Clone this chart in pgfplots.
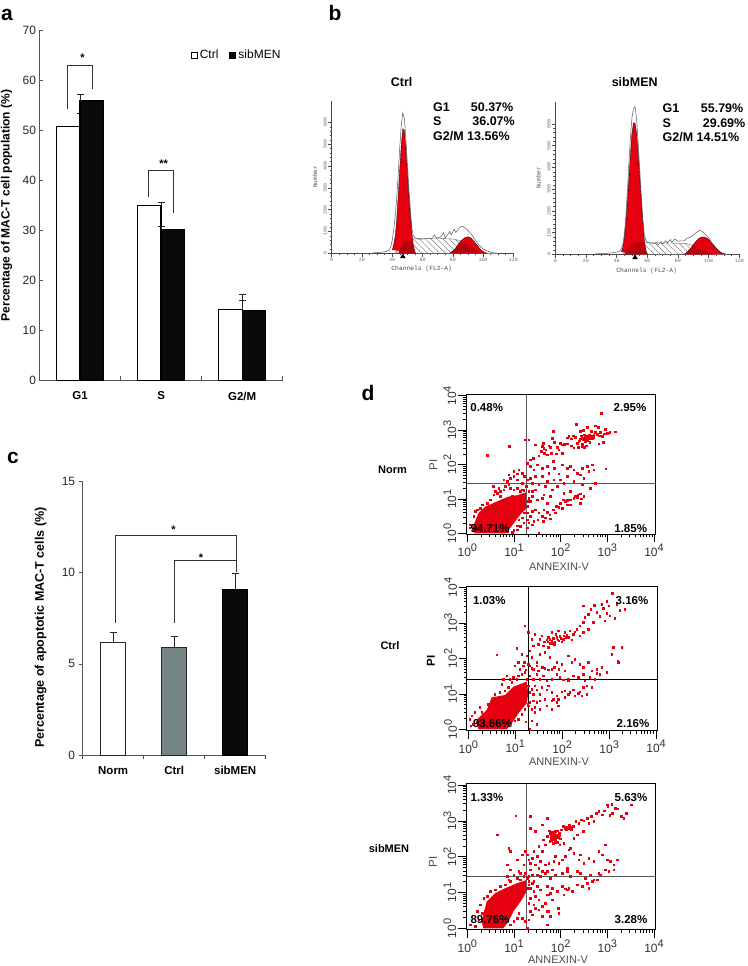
\documentclass[border=0pt]{standalone}
\usepackage{fontspec}
\usepackage{pgfplots}
\pgfplotsset{compat=1.18}
\usetikzlibrary{patterns.meta}
\setmainfont{Liberation Sans}
\setmonofont{Liberation Mono}
\definecolor{flowred}{HTML}{E6000F}
\definecolor{darkred}{HTML}{B8000C}
\definecolor{axgray}{HTML}{555555}
\definecolor{barblack}{HTML}{0A0A0A}
\definecolor{bargray}{HTML}{748484}
\newcommand{\fs}[1]{\fontsize{#1}{#1}\selectfont}
\newcommand{\dec}[1]{10\raisebox{5pt}{\fs{11}#1}}
\newcommand{\minorlist}{42,67,84,98,109,118,126,134,182,207,224,238,249,258,266,274,322,347,364,378,389,398,406,414,462,487,504,518,529,538,546,554}
\tikzset{lab/.style={font=\bfseries\fs{12.5}, inner sep=0pt, anchor=west},
  labr/.style={font=\bfseries\fs{12.5}, inner sep=0pt, anchor=east}}
\pgfplotsset{
  barpanel/.style={
    scale only axis, axis lines=left, axis line style={-,axgray,line width=.8pt},
    tick style={axgray,line width=.7pt}, major tick length=4pt,
    /pgf/number format/assume math mode=true,
    ticklabel style={font=\fs{12}, text=black!85}, 
    xticklabel style={font=\bfseries\fs{11.5}, text=black},
    ylabel style={anchor=center},
    x tick label as interval, xmin=-0.5, xmax=2.5, xtick={-0.5,0.5,1.5,2.5}, ymin=0,
    clip=false},
  errbar/.style={error bars/.cd, y dir=plus, y explicit,
    error bar style={black!85,line width=1pt},
    error mark options={rotate=90, line width=1pt, mark size=3.5pt}},
  hist/.style={
    scale only axis, axis lines=left, axis line style={-,black!70,line width=.6pt},
    xmin=0, xmax=120, ymin=0, clip=false,
    xtick={0,20,...,120}, ytick={0,100,...,600},
    minor x tick num=3, minor y tick num=4,
    tick style={black!70,line width=.5pt}, major tick length=3.5pt, minor tick length=2pt,
    tick align=outside,
    /pgf/number format/assume math mode=true,
    ticklabel style={font=\ttfamily\fs{5}, text=black!60, inner sep=1pt},
    yticklabel style={rotate=90, anchor=south}},
  flow/.style={
    scale only axis, axis on top,
    axis line style={black,line width=1pt},
    xtick pos=bottom, ytick pos=left, tick align=outside,
    tick style={black,line width=.7pt}, major tick length=8pt, minor tick length=3pt,
    xticklabels={\dec{0},\dec{1},\dec{2},\dec{3},\dec{4}},
    yticklabels={\dec{0},\dec{1},\dec{2},\dec{3},\dec{4}},
    ticklabel style={font=\fs{12}, text=black!80, inner sep=1.5pt},
    yticklabel style={rotate=90, anchor=south},
    minor xtick=\minorlist},
  spot/.style={only marks, flowred, mark=square*, mark size=.7pt, mark options={line width=0pt, draw=flowred, fill=flowred}},
  blob/.style={draw=none, fill=flowred, forget plot},
  quad/.style={line width=.8pt, forget plot}
}
\begin{document}
\begin{tikzpicture}[x=1pt,y=1pt]
\useasboundingbox (0,0) rectangle (747,966);

% a
\begin{axis}[barpanel, at={(39.5pt,585.7pt)}, width=243.2pt, height=349.6pt,
  ymax=70, ytick={0,10,...,70}, tick align=inside,
  xticklabels={G1,S,G2/M}, xticklabel style={yshift=-8pt},
  ylabel={Percentage of MAC-T cell population (\%)},
  ylabel style={at={(axis description cs:-0.135,0.5)}, font=\bfseries\fs{12}},
  legend style={at={(1,0.93)}, anchor=east, draw=none, fill=none, legend columns=2,
    font=\fs{12}, /tikz/every even column/.append style={column sep=9pt}, inner sep=0pt},
  legend image code/.code={\draw[#1,line width=1pt] (0pt,-3pt) rectangle (6pt,3pt);}]
\addplot[ybar, bar width=23.3pt, bar shift=-11.65pt, fill=white, draw=black, line width=1.2pt, errbar]
  coordinates {(0,50.8) +- (0,2.6) (1,35.0) +- (0,0.6) (2,14.1) +- (0,3.0)};
\addlegendentry{Ctrl}
\addplot[ybar, bar width=23.3pt, bar shift=11.65pt, fill=barblack, draw=black, line width=1.2pt, errbar]
  coordinates {(0,56.0) +- (0,1.2) (1,30.2) +- (0,0.6) (2,14.0) +- (0,2.0)};
\addlegendentry{sibMEN}
\addplot[forget plot, black!80, line width=.8pt] coordinates {(-0.15,54.4) (-0.15,63.1) (0.158,63.1) (0.158,58.4)};
\addplot[forget plot, black!80, line width=.8pt] coordinates {(0.842,36.8) (0.842,42.1) (1.154,42.1) (1.154,33.4)};
\node[font=\bfseries\fs{11}] at (axis cs:0.03,64.6) {*};
\node[font=\bfseries\fs{11}] at (axis cs:1.03,43.4) {**};
\end{axis}

% c
\begin{axis}[barpanel, at={(82.7pt,211pt)}, width=183pt, height=273.3pt,
  ymax=15, ytick={0,5,10,15}, tick align=outside,
  xticklabels={Norm,Ctrl,sibMEN}, xticklabel style={yshift=-4pt},
  ylabel={Percentage of apoptotic MAC-T cells (\%)},
  ylabel style={at={(axis description cs:-0.23,0.466)}, font=\bfseries\fs{12.5}}]
\addplot[ybar, bar width=25pt, bar shift=0pt, fill=white, draw=black!85, line width=.9pt, errbar]
  coordinates {(0,6.18) +- (0,0.55)};
\addplot[ybar, bar width=25pt, bar shift=0pt, fill=bargray, draw=black!85, line width=.9pt, errbar]
  coordinates {(1,5.89) +- (0,0.62)};
\addplot[ybar, bar width=25pt, bar shift=0pt, fill=barblack, draw=black, line width=.9pt, errbar]
  coordinates {(2,9.11) +- (0,0.86)};
\addplot[black!80, line width=.8pt] coordinates {(0.03,7.26) (0.03,12.05) (2.025,12.05) (2.025,10.06)};
\addplot[black!80, line width=.8pt] coordinates {(1.008,7.26) (1.008,10.66) (2.025,10.66)};
\node[font=\bfseries\fs{11}] at (axis cs:0.99,12.35) {*};
\node[font=\bfseries\fs{11}] at (axis cs:1.44,10.85) {*};
\end{axis}

% b Ctrl
\begin{axis}[hist, at={(331.7pt,712.7pt)}, width=181.6pt, height=152.6pt, ymax=700]
\addplot[draw=black!65, fill=white, line width=.5pt] coordinates {
 (27,2)(30,3)(33,5)(36,8)(38,15)(39,30)(40,60)(41,110)(42,175)(43,260)(44,370)(45,490)(46,590)(47,645)(48,620)(49,530)(50,410)(51,300)(52,200)(53,110)(54,80)(55,72)(57,65)(60,65)(63,68)(66,68)(68,85)(69,70)(72,75)(74,95)(75,70)(76,80)(78,100)(79,85)(81,110)(82,95)(84,115)(86,125)(88,118)(90,105)(92,90)(95,60)(97,40)(100,20)(103,10)(106,3)(110,0)};
\addplot[draw=black!60, line width=.4pt, pattern={Lines[angle=-45,distance=4.2pt,line width=.4pt]}, pattern color=black!55] coordinates {
 (42,0)(46,40)(50,58)(54,66)(60,68)(70,68)(80,66)(85,58)(90,42)(95,20)(100,0)};
\addplot[draw=black, fill=flowred, line width=.3pt] coordinates {
 (40,15)(41,40)(42,80)(43,160)(44,270)(45,390)(46,500)(47,572)(48,565)(49,480)(50,370)(51,260)(52,170)(53,90)(54,35)(55,5)(55.5,0)};
\addplot[draw=none, fill=darkred] coordinates {(44,0)(45,15)(46,32)(48,48)(50,55)(51,58)(52,60)(53,55)(54,30)(55,5)(55.5,0)};
\addplot[draw=black, fill=flowred, line width=.3pt] coordinates {
 (78,0)(80,10)(82,25)(84,45)(86,60)(88,72)(90,76)(92,70)(94,55)(96,38)(98,20)(100,8)(102,2)(103,0)};
\addplot[draw=none, fill=darkred] coordinates {(80,0)(80,10)(82,25)(84,40)(86,50)(90,42)(95,20)(98,0)};
\addplot[only marks, mark=triangle*, mark size=2.8pt, black] coordinates {(47,-15)};
\end{axis}
\node[font=\bfseries\fs{12.5}] at (401.7,884.3) {Ctrl};
\node[font=\ttfamily\fs{6.3}, text=black!70] at (421.7,696.7) {Channels (FL2-A)};
\node[font=\ttfamily\fs{6}, text=black!70, rotate=90] at (315,789) {Number};
\node[lab] at (433,859) {G1};
\node[labr] at (513.5,859) {50.37\%};
\node[lab] at (433,844.5) {S};
\node[labr] at (515,844.5) {36.07\%};
\node[lab] at (433,829.5) {G2/M 13.56\%};

% b sibMEN
\begin{axis}[hist, at={(555.3pt,711.7pt)}, width=184pt, height=152pt, ymax=700]
\addplot[draw=black!65, fill=white, line width=.5pt] coordinates {
 (26,2)(35,5)(40,10)(42,15)(43,25)(44,45)(45,90)(46,175)(47,290)(48,420)(49,540)(50,630)(51,670)(52,680)(53,625)(54,520)(55,400)(56,280)(57,170)(58,95)(59,65)(60,55)(62,52)(64,50)(66,55)(67,45)(69,58)(70,48)(72,62)(73,52)(75,68)(76,55)(78,70)(80,60)(82,62)(84,62)(86,75)(88,78)(90,88)(92,100)(94,110)(96,105)(98,92)(100,75)(102,55)(104,35)(106,20)(108,8)(110,3)(112,0)};
\addplot[draw=black!60, line width=.4pt, pattern={Lines[angle=-45,distance=4.2pt,line width=.4pt]}, pattern color=black!55] coordinates {
 (44,0)(47,25)(50,45)(53,55)(57,55)(65,52)(75,52)(85,50)(90,40)(95,25)(100,10)(103,0)};
\addplot[draw=black, fill=flowred, line width=.3pt] coordinates {
 (43,10)(44,30)(45,70)(46,140)(47,240)(48,350)(49,460)(50,560)(51,605)(52,605)(53,560)(54,470)(55,360)(56,250)(57,150)(58,70)(59,20)(60,0)};
\addplot[draw=none, fill=darkred] coordinates {(45,0)(47,25)(50,45)(53,55)(57,55)(58,55)(59,20)(60,0)};
\addplot[draw=black, fill=flowred, line width=.3pt] coordinates {
 (84,0)(86,10)(88,25)(90,45)(92,62)(94,75)(96,80)(98,78)(100,68)(102,50)(104,35)(106,20)(108,8)(110,2)(111,0)};
\addplot[draw=none, fill=darkred] coordinates {(86,0)(86,10)(88,25)(90,40)(95,25)(100,10)(103,0)};
\addplot[only marks, mark=triangle*, mark size=2.8pt, black] coordinates {(52,-15)};
\end{axis}
\node[font=\bfseries\fs{12.5}] at (634.7,884.3) {sibMEN};
\node[font=\ttfamily\fs{6.3}, text=black!70] at (646.7,695.3) {Channels (FL2-A)};
\node[font=\ttfamily\fs{6}, text=black!70, rotate=90] at (538.5,788) {Number};
\node[lab] at (662.5,858) {G1};
\node[labr] at (743.5,858) {55.79\%};
\node[lab] at (662.5,843) {S};
\node[labr] at (745.5,843) {29.69\%};
\node[lab] at (662.5,828.5) {G2/M 14.51\%};

% d Norm
\begin{axis}[flow, at={(466pt,431.7pt)}, width=189pt, height=139.3pt,
  xmin=-4, xmax=563, ymin=-3, ymax=415,
  xtick={0,140,280,420,560}, ytick={0,103,207,310,413},
  minor ytick={31,49,62,72,80,87,93,99,134,152,165,175,183,190,196,202,238,256,269,279,287,294,300,306,341,359,372,382,390,397,403,409}]
\addplot[blob] coordinates {(23,0)(13,10)(33,60)(53,80)(88,95)(123,110)(153,115)(175,123)(178,100)(178,75)(158,55)(143,35)(128,15)(113,0)};
\addplot[spot] coordinates {
(300,286)(305,290)(312,283)(318,292)(325,288)(330,270)(335,275)(340,283)(342,292)(345,268)(350,285)(352,295)(355,275)(358,262)(360,290)(364,287)(368,272)(372,292)(375,284)(380,295)(385,302)(390,296)(396,292)(400,303)(405,290)(412,298)(420,300)(428,302)(445,304)(393,317)(385,322)(328,327)(340,305)(348,308)(403,360)(360,318)(415,312)(372,306)(280,270)(285,265)(292,267)(300,268)(312,262)(320,256)(333,258)(345,260)(352,258)(395,268)(408,272)(338,278)(344,288)(348,280)(354,290)(358,282)(362,278)(366,294)(370,284)(378,288)
(225,260)(230,255)(236,250)(245,262)(250,258)(252,240)(258,305)(256,285)(262,272)(270,258)(275,250)(268,238)(285,240)(240,235)(232,240)(228,270)(222,245)(215,232)(205,265)(198,225)(190,220)(180,210)(185,280)
(190,200)(200,190)(210,205)(225,195)(240,200)(245,180)(258,215)(262,195)(275,178)(285,205)(300,195)(310,200)(320,190)(345,195)(360,200)(375,205)(380,190)(365,185)(416,193)(340,175)(330,180)(300,170)(280,160)(260,160)(240,155)(225,170)(205,170)(190,165)(196,150)(215,145)(235,140)(255,130)(270,140)(290,150)(320,155)(350,165)(385,150)(370,135)(345,145)(310,125)(290,120)
(340,118)(332,115)(325,110)(320,105)(330,108)(342,103)(310,100)(300,98)(295,95)(288,100)(280,90)(275,78)(268,80)(258,70)(248,55)(240,62)(230,70)(235,45)(225,50)(215,60)(205,70)(195,65)(190,50)(200,35)(212,40)(228,35)(250,42)(265,60)(285,75)(300,85)(310,85)(340,90)(350,110)(240,90)(225,105)(210,100)(195,110)(190,95)(185,125)(195,125)(205,130)(230,115)(250,110)
(80,115)(85,125)(90,120)(78,140)(95,135)(100,125)(110,130)(115,140)(125,145)(130,135)(140,130)(150,135)(160,125)(165,130)(170,128)(120,155)(130,165)(140,170)(150,178)(155,190)(165,180)(172,170)(180,160)(178,140)(150,160)(165,150)(110,160)(125,175)(140,185)(60,233)(126,261)(175,280)
(180,60)(185,30)(180,40)(170,30)(160,20)(150,10)(140,8)(135,2)(180,15)(195,25)(215,0)(182,80)(30,70)(45,85)(70,100)(100,110)(10,25)(120,5)(155,40)(25,65)(20,50)(40,75)(60,90)(8,15)(135,112)(165,45)(185,105)(182,95)(172,60)(150,22)};
\addplot[quad, black!65] coordinates {(178,-3)(178,415)};
\addplot[quad, black!65] coordinates {(-4,151)(563,151)};
\end{axis}
\node[font=\bfseries\fs{11.5}] at (486.7,558.3) {0.48\%};
\node[font=\bfseries\fs{11.5}] at (630,558.3) {2.95\%};
\node[font=\bfseries\fs{11.5}, text=black] at (490,437.7) {94.71\%};
\node[font=\bfseries\fs{11.5}] at (630.7,437.7) {1.85\%};
\node[font=\fs{11}, text=black!70] at (559,399.5) {ANNEXIN-V};
\node[font=\fs{11.5}, text=black!70, rotate=90] at (433.5,501) {PI};
\node[font=\bfseries\fs{11}] at (392.5,496) {Norm};

% d Ctrl
\begin{axis}[flow, at={(466.7pt,235.3pt)}, width=190.7pt, height=144pt,
  xmin=-5, xmax=567, ymin=-4, ymax=428,
  xtick={0,140.75,281.5,422.25,563}, ytick={0,106.5,213,319.5,426},
  minor ytick={32,51,64,74,83,90,96,102,138,157,170,180,189,196,202,208,245,264,277,287,296,303,309,315,351,370,383,393,402,409,415,421}]
\addplot[blob] coordinates {(30,0)(25,28)(55,58)(70,96)(110,103)(135,128)(175,143)(180,108)(175,78)(150,48)(130,18)(115,0)};
\addplot[spot] coordinates {
(215,270)(220,280)(228,262)(235,268)(240,275)(245,258)(250,265)(255,272)(258,255)(262,285)(268,268)(275,278)(280,262)(285,270)(290,290)(295,282)(300,275)(305,295)(310,268)(315,285)(320,292)(325,300)(200,285)(190,270)(210,255)(225,250)(240,245)(180,290)(195,250)(250,290)(270,295)(335,310)(345,320)(350,335)(360,345)(368,360)(375,320)(385,350)(395,338)(405,362)(415,383)(432,408)(455,356)(440,333)(415,348)(425,340)(410,325)(378,372)(345,370)(400,375)(422,370)(445,375)(470,360)(360,300)(345,290)(335,280)(238,262)(244,270)(252,258)(260,262)(266,275)(272,265)(278,272)(286,280)(292,276)
(175,220)(185,235)(190,215)(205,200)(215,225)(230,230)(245,215)(170,310)(146,243)(85,223)(150,200)(165,190)(172,178)(168,200)
(180,195)(185,190)(190,182)(195,180)(205,190)(210,175)(222,185)(230,182)(240,178)(250,180)(258,185)(265,200)(272,180)(280,195)(290,175)(300,220)(310,200)(320,210)(335,195)(345,185)(360,200)(370,175)(385,180)(400,185)(415,170)(430,225)(450,200)(460,245)(435,246)(448,205)
(175,150)(185,160)(195,150)(205,165)(215,150)(225,160)(235,145)(250,150)(265,165)(275,155)(285,148)(300,150)(315,160)(330,155)(345,165)(365,155)(385,168)(395,165)(380,150)(350,145)(300,145)(240,130)(220,125)(200,130)(190,120)(180,130)
(185,110)(195,105)(205,118)(215,105)(235,118)(250,110)(265,100)(280,112)(290,115)(300,105)(305,110)(315,118)(320,100)(330,108)(335,112)(345,125)(355,130)(370,125)(355,105)(340,100)(290,95)(270,90)(255,90)(230,90)(215,85)(205,80)(195,85)(185,80)(180,70)(190,60)(200,65)(215,60)(235,70)(250,60)(265,80)(270,70)(250,85)(200,50)(190,25)(185,0)(205,15)
(130,140)(125,150)(135,155)(145,150)(150,160)(160,165)(170,170)(120,125)(110,115)(95,110)(80,105)(100,135)(105,150)(115,160)(140,190)(155,180)(160,225)(10,40)(20,50)(25,20)(15,15)(5,30)(35,65)(60,75)(40,50)(8,10)(130,30)(140,25)(150,30)(160,45)(170,60)(178,75)(172,22)};
\addplot[quad, black] coordinates {(180,-4)(180,428)};
\addplot[quad, black] coordinates {(-5,151)(567,151)};
\end{axis}
\node[font=\bfseries\fs{11.5}] at (489.3,365.3) {1.03\%};
\node[font=\bfseries\fs{11.5}] at (632,365.3) {3.16\%};
\node[font=\bfseries\fs{11.5}, text=black] at (492.5,242.7) {93.66\%};
\node[font=\bfseries\fs{11.5}] at (633,242.7) {2.16\%};
\node[font=\fs{11}, text=black!70] at (559,204.5) {ANNEXIN-V};
\node[font=\bfseries\fs{11.5}, rotate=90] at (431,305) {PI};
\node[font=\bfseries\fs{11}] at (390,320) {Ctrl};

% d sibMEN
\begin{axis}[flow, at={(466pt,36pt)}, width=189pt, height=146.3pt,
  xmin=-4, xmax=563, ymin=-5, ymax=434,
  xtick={0,140,280,420,560}, ytick={0,107.5,215,322.5,430},
  minor ytick={32,51,65,75,84,91,97,103,140,159,172,182,191,198,204,210,247,266,280,290,299,306,312,318,355,374,387,397,406,413,419,425}]
\addplot[blob] coordinates {(48,0)(43,20)(58,80)(83,105)(113,120)(148,135)(178,145)(180,115)(163,85)(138,50)(123,20)(108,0)};
\addplot[spot] coordinates {
(248,260)(252,270)(256,280)(260,265)(264,290)(268,275)(272,258)(276,285)(280,268)(250,285)(240,275)(258,255)(266,262)(272,292)(246,292)(283,295)(288,305)(294,298)(300,302)(306,310)(312,296)(318,305)(326,320)(335,315)(342,325)(350,322)(360,330)(365,315)(372,335)(380,320)(388,345)(395,350)(405,340)(412,352)(420,370)(428,338)(436,345)(445,360)(452,358)(462,335)(470,330)(478,345)(493,370)(422,365)(434,372)(240,330)(205,290)(190,300)(225,310)(190,335)(215,245)(225,230)(228,265)(235,250)(278,250)(290,255)(310,240)(320,270)(330,280)(348,290)(146,337)(90,280)(130,230)(254,264)(258,272)(262,282)(266,268)(270,280)(274,272)(252,276)(256,288)(264,258)(278,278)(292,304)(298,296)(304,300)(310,304)
(180,220)(185,205)(190,195)(195,210)(200,230)(205,190)(210,215)(215,180)(220,200)(225,170)(235,190)(245,195)(255,175)(265,215)(275,195)(285,205)(295,215)(305,235)(320,225)(335,205)(350,195)(365,210)(380,200)(395,230)(415,250)(420,205)(430,200)(440,190)(450,205)(405,220)(340,220)(300,180)(260,200)(240,170)(175,230)(165,220)(170,190)(150,205)(155,170)(125,240)(120,190)
(175,165)(185,155)(190,175)(195,160)(200,140)(210,160)(220,155)(235,165)(250,150)(265,160)(285,165)(300,170)(310,155)(330,170)(340,165)(355,150)(370,160)(395,165)(415,175)(425,170)(440,175)(400,160)(380,145)(130,175)(140,160)(150,150)(160,165)(120,155)(125,145)
(180,120)(185,130)(195,135)(200,110)(210,125)(220,115)(240,100)(255,120)(270,110)(285,125)(295,118)(305,120)(315,110)(330,130)(345,125)(360,135)(375,140)(390,145)(365,120)(300,115)(290,100)(240,125)(250,105)
(185,75)(190,90)(200,70)(205,95)(215,85)(225,65)(235,75)(245,100)(215,55)(190,50)(195,40)(205,60)(225,35)(240,50)(275,60)(250,35)(245,50)(275,45)(255,85)(272,60)(240,10)(180,0)(175,20)(165,30)(155,45)(150,30)(140,20)(130,10)(185,25)
(10,10)(25,5)(30,50)(35,25)(50,90)(70,110)(100,125)(130,140)(55,50)(65,5)(40,70)(45,45)(60,95)(85,115)(115,130)(160,145)(170,155)(180,150)(185,140)(190,120)};
\addplot[quad, black!65] coordinates {(176,-5)(176,434)};
\addplot[quad, black!65] coordinates {(-4,155)(563,155)};
\end{axis}
\node[font=\bfseries\fs{11.5}] at (487,168.7) {1.33\%};
\node[font=\bfseries\fs{11.5}] at (631,168.7) {5.63\%};
\node[font=\bfseries\fs{11.5}, text=black] at (490,46) {89.76\%};
\node[font=\bfseries\fs{11.5}] at (631,46) {3.28\%};
\node[font=\fs{11}, text=black!70] at (558,6) {ANNEXIN-V};
\node[font=\fs{11.5}, text=black!70, rotate=90] at (433,104) {PI};
\node[font=\bfseries\fs{11}] at (389,117) {sibMEN};

\node[font=\bfseries\fs{21}] at (7,951) {a};
\node[font=\bfseries\fs{21}] at (335,953) {b};
\node[font=\bfseries\fs{21}] at (13,508) {c};
\node[font=\bfseries\fs{21}] at (368,573) {d};
\end{tikzpicture}
\end{document}
